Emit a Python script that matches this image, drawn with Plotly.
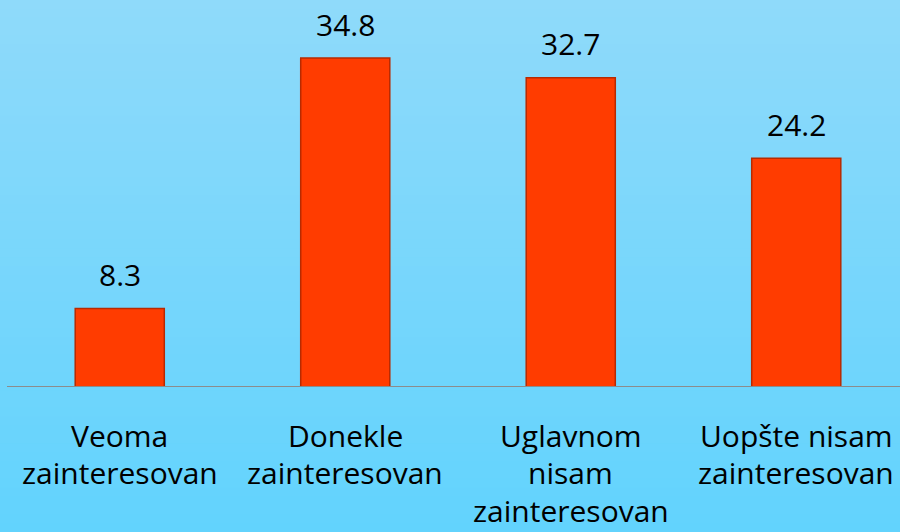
import plotly.graph_objects as go

categories = ["Veoma<br>zainteresovan", "Donekle<br>zainteresovan",
              "Uglavnom<br>nisam<br>zainteresovan", "Uopšte nisam<br>zainteresovan"]
values = [8.3, 34.8, 32.7, 24.2]
value_labels = ["8.3", "34.8", "32.7", "24.2"]

W, H = 900, 532
ML, MR, MT, MB = 7, 0, 0, 145
FONT = "Open Sans, sans-serif"
FS = 30

fig = go.Figure()
fig.add_trace(go.Bar(
    x=list(range(len(categories))), y=values,
    marker=dict(color="#FF3C00", line=dict(color="#B82A00", width=1.5)),
    width=0.395, hoverinfo="skip",
))

# background vertical gradient via thin strips
top = (143, 218, 250)
bot = (98, 211, 253)
N = 60
pw = W - ML - MR
ph = H - MT - MB
x0 = -ML / pw - 0.01
x1 = 1 + MR / pw + 0.01
shapes = []
for i in range(N):
    t = i / (N - 1)
    c = tuple(round(top[k] + (bot[k] - top[k]) * t) for k in range(3))
    ya = 1 + MT / ph - (i / N) * H / ph + (0.01 if i == 0 else 0)
    yb = 1 + MT / ph - ((i + 1) / N) * H / ph - (0.01 if i == N - 1 else 0.002)
    shapes.append(dict(type="rect", xref="paper", yref="paper", x0=x0, x1=x1,
                       y0=yb, y1=ya, fillcolor="rgb(%d,%d,%d)" % c,
                       line=dict(width=0), layer="below"))
# baseline
shapes.append(dict(type="line", xref="paper", yref="y", x0=0, x1=1, y0=0, y1=0,
                   line=dict(color="#8C8C8C", width=2), layer="above"))

annotations = []
for i, (v, lab) in enumerate(zip(values, value_labels)):
    annotations.append(dict(x=i, y=v, xref="x", yref="y", text=lab, showarrow=False,
                            yanchor="middle", yshift=34,
                            font=dict(family=FONT, size=FS, color="#000000")))
for i, cat in enumerate(categories):
    for j, line in enumerate(cat.split("<br>")):
        annotations.append(dict(x=i, y=0, xref="x", yref="paper", text=line,
                                showarrow=False, yanchor="middle",
                                yshift=-48 - 37.5 * j,
                                font=dict(family=FONT, size=FS, color="#000000")))

fig.update_layout(
    width=W, height=H,
    margin=dict(l=ML, r=MR, t=MT, b=MB),
    paper_bgcolor="rgb(120,214,251)",
    plot_bgcolor="rgba(0,0,0,0)",
    showlegend=False,
    shapes=shapes,
    annotations=annotations,
    xaxis=dict(range=[-0.5, -0.5 + pw / 225.5], showticklabels=False, showgrid=False,
               zeroline=False, showline=False, ticks="", fixedrange=True),
    yaxis=dict(range=[0, (H - MB - MT) / 9.454], visible=False, fixedrange=True),
)

fig.write_html("out.html", config={"displayModeBar": False},
               post_script="document.body.style.margin='0';document.body.style.overflow='hidden';")
